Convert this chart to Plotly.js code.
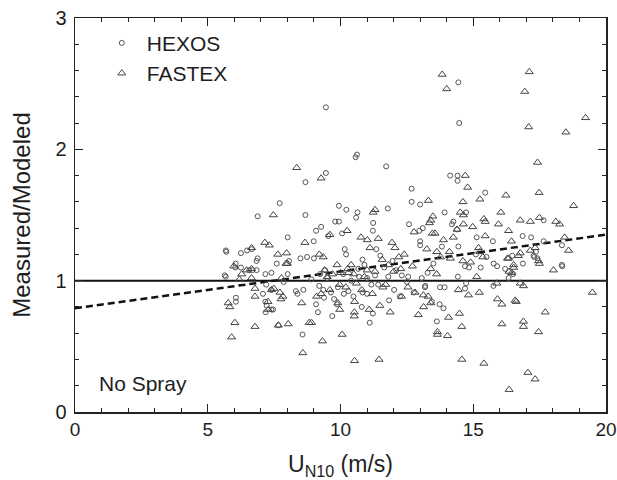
<!DOCTYPE html>
<html>
<head>
<meta charset="utf-8">
<script src="https://cdn.plot.ly/plotly-3.0.1.min.js"></script>
<style>html,body{margin:0;padding:0;background:#fff;}#chart{width:617px;height:480px;}</style>
</head>
<body>
<div id="chart"></div>
<script>
// HEXOS (circles): wind speed U_N10 (m/s) and Measured/Modeled ratio
const hexosX = [14.44,9.45,14.47,10.62,10.57,11.72,9.45,8.68,14.13,14.41,14.41,12.68,15.45,7.71,12.68,13.0,11.78,9.94,10.22,10.64,13.92,14.73,6.88,8.68,10.59,9.8,9.94,11.23,14.25,14.2,17.65,9.27,12.58,9.08,13.1,12.97,14.39,9.54,10.06,11.22,8.01,15.13,16.86,17.18,15.74,13.0,13.0,17.65,8.99,13.82,14.44,18.34,10.16,11.35,6.25,6.48,6.66,5.68,5.7,6.88,6.84,8.06,8.49,8.74,9.0,10.21,10.83,11.96,17.3,16.47,17.27,17.42,17.36,15.1,15.5,16.87,15.77,18.34,18.35,6.05,6.04,6.25,6.56,6.68,6.84,7.17,7.4,8.01,7.6,5.68,5.64,9.42,9.23,10.67,11.65,13.5,14.69,14.84,15.28,15.9,16.2,16.5,16.33,13.28,14.42,13.06,12.55,12.31,11.8,11.0,10.4,8.9,7.86,7.2,14.73,14.69,13.92,13.75,13.19,13.18,12.02,11.42,11.16,10.83,10.49,10.13,9.76,9.64,9.35,9.38,9.87,10.8,12.24,11.83,12.76,7.39,7.08,8.38,8.6,8.32,7.17,7.22,7.18,7.46,7.4,6.06,6.06,9.08,9.15,9.69,11.1,11.22,13.44,13.73,13.88,13.63,8.57,15.76,7.66,9.5,10.1,10.7,11.3,9.9,10.3,11.0,12.5,12.1,10.9,9.2,11.5];
const hexosY = [2.51,2.32,2.20,1.96,1.94,1.87,1.82,1.75,1.80,1.80,1.76,1.70,1.67,1.59,1.60,1.58,1.55,1.57,1.54,1.52,1.52,1.52,1.49,1.50,1.48,1.45,1.45,1.44,1.45,1.43,1.46,1.41,1.43,1.38,1.40,1.38,1.39,1.34,1.36,1.38,1.33,1.33,1.34,1.33,1.30,1.30,1.27,1.30,1.30,1.26,1.26,1.27,1.24,1.24,1.21,1.23,1.24,1.23,1.22,1.17,1.15,1.15,1.17,1.18,1.17,1.20,1.16,1.15,1.18,1.19,1.19,1.17,1.22,1.20,1.18,1.13,1.13,1.12,1.11,1.13,1.10,1.10,1.08,1.08,1.08,1.05,1.06,1.05,1.13,1.03,1.04,1.08,1.05,1.09,1.10,1.13,1.11,1.10,1.10,1.11,1.09,1.05,1.02,1.06,1.03,1.02,1.03,1.04,1.03,1.02,1.00,1.01,0.99,0.97,0.98,0.94,0.95,0.95,0.96,0.95,0.93,0.97,0.97,0.91,0.88,0.90,0.86,0.91,0.93,0.87,0.82,0.80,0.88,0.85,0.91,0.93,0.90,0.90,0.93,0.92,0.84,0.81,0.76,0.78,0.78,0.87,0.84,0.82,0.76,0.73,0.68,0.75,0.84,0.82,0.79,0.69,0.59,0.96,0.66,1.02,1.05,1.03,1.04,0.95,0.92,0.90,0.99,1.08,1.12,0.96,1.19];

// FASTEX (triangles)
const fastexX = [13.83,14.0,17.11,16.94,17.09,19.23,18.49,17.42,8.35,9.27,14.7,14.79,17.48,16.23,15.25,13.31,14.61,18.78,11.23,11.3,16.04,7.47,15.4,15.45,13.48,13.4,13.35,14.51,14.63,14.63,16.77,17.15,17.49,18.11,18.25,15.95,16.33,14.98,14.39,12.77,13.46,13.56,14.25,15.45,13.88,18.44,16.44,10.77,11.01,11.42,10.25,9.6,11.94,12.05,13.25,13.63,14.1,15.2,15.25,16.7,16.77,17.15,17.33,18.59,7.15,7.32,6.65,8.66,7.64,7.97,9.35,9.2,11.11,11.57,12.2,13.77,14.14,14.61,14.9,15.36,16.29,16.33,17.46,17.49,16.52,16.52,18.02,16.35,16.45,15.13,13.62,12.71,13.4,12.27,9.87,10.27,10.0,10.5,11.0,8.0,7.95,5.98,6.46,6.65,6.28,6.65,6.19,7.78,9.5,15.89,16.77,16.89,9.97,10.6,12.54,14.44,11.6,19.49,16.58,15.91,16.08,16.62,15.23,14.82,12.81,13.12,13.3,13.4,13.13,12.93,11.87,11.48,11.08,10.52,10.52,10.53,9.97,9.27,9.1,8.54,7.72,7.76,7.49,7.83,7.4,6.78,6.78,7.28,7.27,5.77,5.83,17.71,14.48,14.07,16.08,16.89,16.89,17.46,14.57,13.65,13.65,14.03,8.82,8.91,8.03,7.66,6.78,6.02,5.9,10.06,9.32,8.58,10.53,11.45,14.57,15.4,17.06,17.33,16.35,9.7,10.3,10.9,11.3,12.0,9.6,10.2,10.8,11.2,12.3,9.4,11.8,12.4,10.4,9.9,11.7];
const fastexY = [2.57,2.46,2.59,2.44,2.17,2.24,2.13,1.90,1.86,1.78,1.80,1.71,1.67,1.65,1.62,1.61,1.60,1.57,1.52,1.54,1.52,1.50,1.47,1.45,1.49,1.46,1.44,1.52,1.50,1.43,1.46,1.45,1.48,1.45,1.43,1.43,1.38,1.41,1.39,1.37,1.36,1.36,1.33,1.34,1.31,1.33,1.30,1.33,1.31,1.32,1.38,1.35,1.29,1.25,1.24,1.22,1.22,1.25,1.22,1.19,1.21,1.23,1.25,1.23,1.29,1.27,1.25,1.29,1.20,1.21,1.18,1.20,1.25,1.16,1.18,1.18,1.17,1.15,1.14,1.18,1.17,1.17,1.15,1.13,1.12,1.10,1.08,1.07,1.06,1.03,1.05,1.11,1.09,1.09,1.12,1.09,1.06,1.05,1.08,1.13,1.13,1.11,1.08,1.09,1.05,1.02,1.01,1.02,1.03,0.98,0.98,0.96,0.97,0.98,0.95,0.93,0.95,0.91,0.85,0.86,0.82,0.84,0.91,0.89,0.91,0.89,0.88,0.83,0.80,0.74,0.76,0.81,0.78,0.76,0.73,0.84,0.78,0.90,0.88,0.83,0.91,0.86,0.94,0.88,0.93,0.94,0.88,0.78,0.84,0.83,0.80,0.76,0.75,0.72,0.67,0.69,0.65,0.61,0.65,0.61,0.59,0.58,0.68,0.68,0.67,0.66,0.65,0.68,0.57,0.59,0.54,0.45,0.39,0.40,0.40,0.37,0.30,0.25,0.17,1.05,1.06,1.03,1.07,1.07,0.93,0.95,0.93,0.90,0.88,1.08,1.12,1.20,1.12,0.83,0.97];

// reference line (ratio = 1) and linear fit
const refX = [0, 20];
const refY = [1, 1];
const fitX = [0, 20];
const fitY = [0.79, 1.35];

const xTicks = [0, 5, 10, 15, 20];
const yTicks = [0, 1, 2, 3];
const seriesNames = ['HEXOS', 'FASTEX'];

const FONT = 'Liberation Sans, Arial, Helvetica, sans-serif';
const INK = '#1e1e1e';

const traces = [
  {x: refX, y: refY, mode: 'lines', line: {color: '#111', width: 2}, showlegend: false, hoverinfo: 'skip'},
  {x: fitX, y: fitY, mode: 'lines', line: {color: '#111', width: 2.5, dash: '7px,4px'}, showlegend: false, hoverinfo: 'skip'},
  {x: hexosX, y: hexosY, mode: 'markers', name: seriesNames[0],
   marker: {symbol: 'circle-open', size: 5, color: '#555', line: {width: 1}}},
  {x: fastexX, y: fastexY, mode: 'markers', name: seriesNames[1],
   marker: {symbol: 'triangle-up-open', size: 7, color: '#444', line: {width: 1}}}
];

const axisCommon = {
  showline: true, linecolor: '#222', linewidth: 1.5, mirror: 'ticks',
  ticks: 'inside', ticklen: 8, tickwidth: 1.2, tickcolor: '#222',
  showgrid: false, zeroline: false
};

const layout = {
  width: 617, height: 480,
  margin: {l: 75, r: 11, t: 18, b: 68},
  paper_bgcolor: '#fff', plot_bgcolor: '#fff',
  font: {family: FONT, color: INK},
  xaxis: Object.assign({}, axisCommon, {
    range: [0, 20], tickvals: xTicks, ticktext: xTicks.map(String),
    tickfont: {family: FONT, size: 19, color: INK},
    minor: {dtick: 1, ticks: 'inside', ticklen: 4, tickwidth: 1, tickcolor: '#222', showgrid: false},
    title: {text: 'U<sub>N10</sub> (m/s)', font: {family: FONT, size: 23, color: INK}, standoff: 17}
  }),
  yaxis: Object.assign({}, axisCommon, {
    range: [0, 3], tickvals: yTicks, ticktext: yTicks.map(String),
    tickfont: {family: FONT, size: 20, color: INK},
    ticklabelstandoff: 3,
    minor: {dtick: 0.2, ticks: 'inside', ticklen: 4, tickwidth: 1, tickcolor: '#222', showgrid: false},
    title: {text: 'Measured/Modeled', font: {family: FONT, size: 24, color: INK}, standoff: 18}
  }),
  showlegend: true,
  legend: {
    x: 0.041, y: 0.988, xanchor: 'left', yanchor: 'top',
    bgcolor: 'rgba(0,0,0,0)', borderwidth: 0, itemwidth: 40,
    font: {family: FONT, size: 21, color: INK},
    tracegroupgap: 0
  },
  annotations: [{
    text: 'No Spray', xref: 'x', yref: 'y', x: 0.82, y: 0.22,
    xanchor: 'left', yanchor: 'middle', showarrow: false,
    font: {family: FONT, size: 21, color: INK}
  }]
};

Plotly.newPlot('chart', traces, layout, {displayModeBar: false, staticPlot: true});
</script>
</body>
</html>
